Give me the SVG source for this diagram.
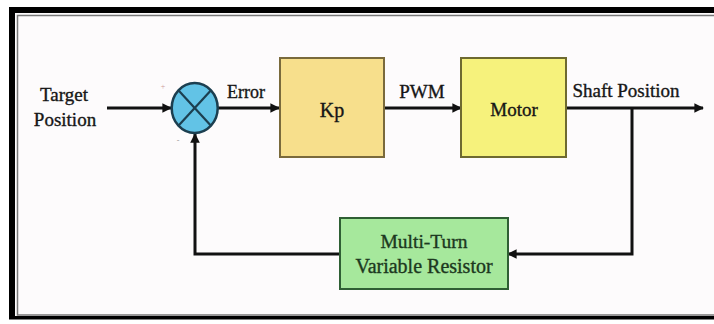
<svg xmlns="http://www.w3.org/2000/svg" width="714" height="324" viewBox="0 0 714 324">
  <defs>
    <marker id="ah" viewBox="0 0 10 10" refX="9" refY="5" markerWidth="3.2" markerHeight="3.2" orient="auto" markerUnits="strokeWidth">
      <path d="M0,0 L10,5 L0,10 z" fill="#111"/>
    </marker>
  </defs>
  <style>
    text { font-family: "Liberation Serif", "Times New Roman", serif; fill: #161616; stroke: #161616; stroke-width: 0.35; }
    .lbl { font-size: 19px; }
    .conn { stroke: #111; stroke-width: 3; fill: none; }
    .box { stroke-width: 2; }
    .g { fill: #1c3820; stroke: #1c3820; }
  </style>
  <rect x="0" y="0" width="714" height="324" fill="#ffffff"/>
  <g id="frame">
    <rect x="15" y="13" width="705" height="304" fill="#fdfbfc"/>
    <path d="M9,7 H714 V13 H15 V316 H714 V319.5 H9 Z" fill="#000"/>
    <rect x="17.5" y="15.5" width="700" height="299.5" fill="none" stroke="#777" stroke-width="1.5"/>
  </g>

  <g id="connectors">
    <line class="conn" x1="107" y1="108" x2="171" y2="108" marker-end="url(#ah)"/>
    <line class="conn" x1="218" y1="108" x2="279" y2="108" marker-end="url(#ah)"/>
    <line class="conn" x1="385" y1="108" x2="461" y2="108" marker-end="url(#ah)"/>
    <line class="conn" x1="566" y1="108" x2="703" y2="108" marker-end="url(#ah)"/>
    <polyline class="conn" points="632,108 632,254 508,254" marker-end="url(#ah)"/>
    <polyline class="conn" points="340,254 195,254 195,134" marker-end="url(#ah)"/>
  </g>

  <g id="input-label">
    <text class="lbl" x="64" y="101" text-anchor="middle">Target</text>
    <text class="lbl" x="65" y="126" text-anchor="middle">Position</text>
  </g>

  <g id="sum">
    <ellipse cx="194.7" cy="108" rx="23" ry="25" fill="#62c3e6" stroke="#1c3f50" stroke-width="2.5"/>
    <line x1="178.4" y1="90.3" x2="211" y2="125.7" stroke="#1c3f50" stroke-width="2.2"/>
    <line x1="211" y1="90.3" x2="178.4" y2="125.7" stroke="#1c3f50" stroke-width="2.2"/>
    <text x="163" y="89" font-size="8" text-anchor="middle" style="fill:#c99;stroke:none">+</text>
    <text x="178" y="143" font-size="8" text-anchor="middle" style="fill:#999;stroke:none">-</text>
  </g>

  <g id="error-label">
    <text x="246" y="98" font-size="18" text-anchor="middle">Error</text>
  </g>

  <g id="kp">
    <rect class="box" x="280" y="58" width="104" height="99" fill="#f7df8c" stroke="#7a6a3c"/>
    <text x="332" y="117" font-size="20" text-anchor="middle">Kp</text>
  </g>

  <g id="pwm-label">
    <text class="lbl" x="422" y="98" text-anchor="middle">PWM</text>
  </g>

  <g id="motor">
    <rect class="box" x="461" y="58" width="105" height="99" fill="#f6f27c" stroke="#6e6a30"/>
    <text x="514" y="116" font-size="19" text-anchor="middle">Motor</text>
  </g>

  <g id="shaft-label">
    <text class="lbl" x="626" y="97" text-anchor="middle">Shaft Position</text>
  </g>

  <g id="resistor">
    <rect class="box" x="340" y="218" width="168" height="71" fill="#a6e89c" stroke="#2f5f34"/>
    <text class="g" x="424" y="248" font-size="19.5" text-anchor="middle">Multi-Turn</text>
    <text class="g" x="424" y="273" font-size="20" text-anchor="middle">Variable Resistor</text>
  </g>
</svg>
